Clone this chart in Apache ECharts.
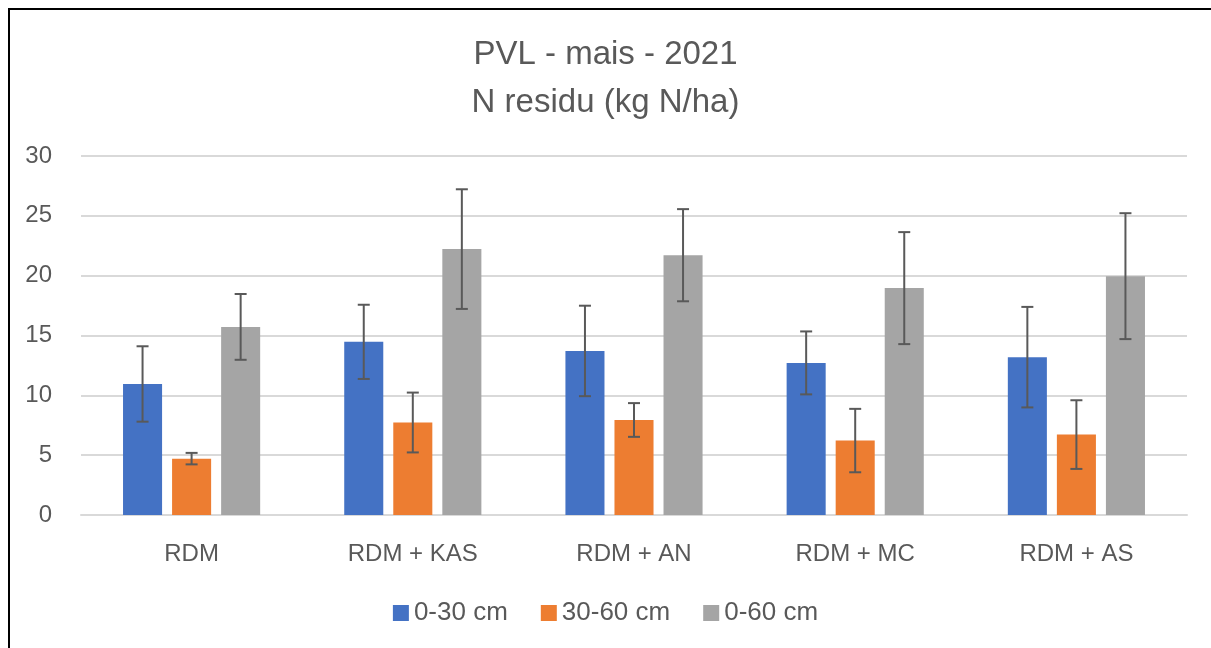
<!DOCTYPE html>
<html>
<head>
<meta charset="utf-8">
<script src="https://cdn.jsdelivr.net/npm/echarts@6/dist/echarts.min.js"></script>
<style>
html,body{margin:0;padding:0;background:#fff;overflow:hidden;}
#frame{position:absolute;left:8px;top:8px;width:1210px;height:660px;border:2px solid #000;box-sizing:border-box;}
#chart{position:absolute;left:0;top:0;width:1211px;height:648px;}
</style>
</head>
<body>
<div id="frame"></div>
<div id="chart"></div>
<script>
const categories = ['RDM', 'RDM + KAS', 'RDM + AN', 'RDM + MC', 'RDM + AS'];
const seriesNames = ['0-30 cm', '30-60 cm', '0-60 cm'];
const val0_30 = [10.95, 14.47, 13.71, 12.71, 13.19];
const err0_30 = [3.15, 3.1, 3.78, 2.63, 4.2];
const val30_60 = [4.71, 7.73, 7.94, 6.22, 6.72];
const err30_60 = [0.48, 2.5, 1.41, 2.65, 2.87];
const val0_60 = [15.72, 22.22, 21.71, 18.96, 19.96];
const err0_60 = [2.75, 5.0, 3.85, 4.68, 5.26];
const yTicks = { min: 0, max: 30, interval: 5 };

const colors = ['#4472C4', '#ED7D31', '#A5A5A5'];
const values = [val0_30, val30_60, val0_60];
const errors = [err0_30, err30_60, err0_60];
const CAT_GAP = 0.38, BAR_GAP = 0.256, N = 3;
const FONT = '"Liberation Sans", Arial, sans-serif';

const chart = echarts.init(document.getElementById('chart'), null, { renderer: 'canvas' });

const barSeries = seriesNames.map((name, i) => ({
  name: name,
  type: 'bar',
  data: values[i],
  itemStyle: { color: colors[i] },
  barGap: (BAR_GAP * 100) + '%',
  barCategoryGap: (CAT_GAP * 100) + '%',
  z: 2
}));

const errSeries = seriesNames.map((name, i) => ({
  type: 'custom',
  name: name + ' err',
  data: values[i].map((v, k) => [k, v - errors[i][k], v + errors[i][k]]),
  z: 5,
  silent: true,
  renderItem: function (params, api) {
    const k = api.value(0);
    const lo = api.coord([k, api.value(1)]);
    const hi = api.coord([k, api.value(2)]);
    const band = api.size([1, 0])[0];
    const w = band * (1 - CAT_GAP) / (N + (N - 1) * BAR_GAP);
    const group = N * w + (N - 1) * BAR_GAP * w;
    const x = lo[0] - group / 2 + w / 2 + i * (w + BAR_GAP * w);
    const cap = 6;
    const style = { stroke: '#595959', lineWidth: 2 };
    return {
      type: 'group',
      children: [
        { type: 'line', shape: { x1: x, y1: hi[1], x2: x, y2: lo[1] }, style: style },
        { type: 'line', shape: { x1: x - cap, y1: hi[1], x2: x + cap, y2: hi[1] }, style: style },
        { type: 'line', shape: { x1: x - cap, y1: lo[1], x2: x + cap, y2: lo[1] }, style: style }
      ]
    };
  },
  encode: { x: 0, y: [1, 2] }
}));

chart.setOption({
  animation: false,
  backgroundColor: 'transparent',
  title: {
    text: 'PVL - mais - 2021\nN residu (kg N/ha)',
    left: 'center',
    top: 26,
    textStyle: { fontFamily: FONT, fontSize: 33, fontWeight: 'normal', color: '#595959', lineHeight: 48 }
  },
  legend: {
    data: seriesNames,
    bottom: 17,
    left: 'center',
    itemWidth: 16,
    itemHeight: 16,
    itemGap: 33,
    icon: 'rect',
    textStyle: { fontFamily: FONT, fontSize: 26, color: '#595959' }
  },
  grid: { left: 81, right: 24, top: 156, bottom: 133, containLabel: false },
  xAxis: {
    type: 'category',
    data: categories,
    axisLine: { lineStyle: { color: '#D9D9D9', width: 2 } },
    axisTick: { show: false },
    axisLabel: { fontFamily: FONT, fontSize: 24, color: '#595959', margin: 27 }
  },
  yAxis: {
    type: 'value',
    min: yTicks.min,
    max: yTicks.max,
    interval: yTicks.interval,
    axisLine: { show: false },
    axisTick: { show: false },
    splitLine: { lineStyle: { color: '#D9D9D9', width: 2 } },
    axisLabel: { fontFamily: FONT, fontSize: 24, color: '#595959', margin: 29 }
  },
  series: barSeries.concat(errSeries)
});
</script>
</body>
</html>
